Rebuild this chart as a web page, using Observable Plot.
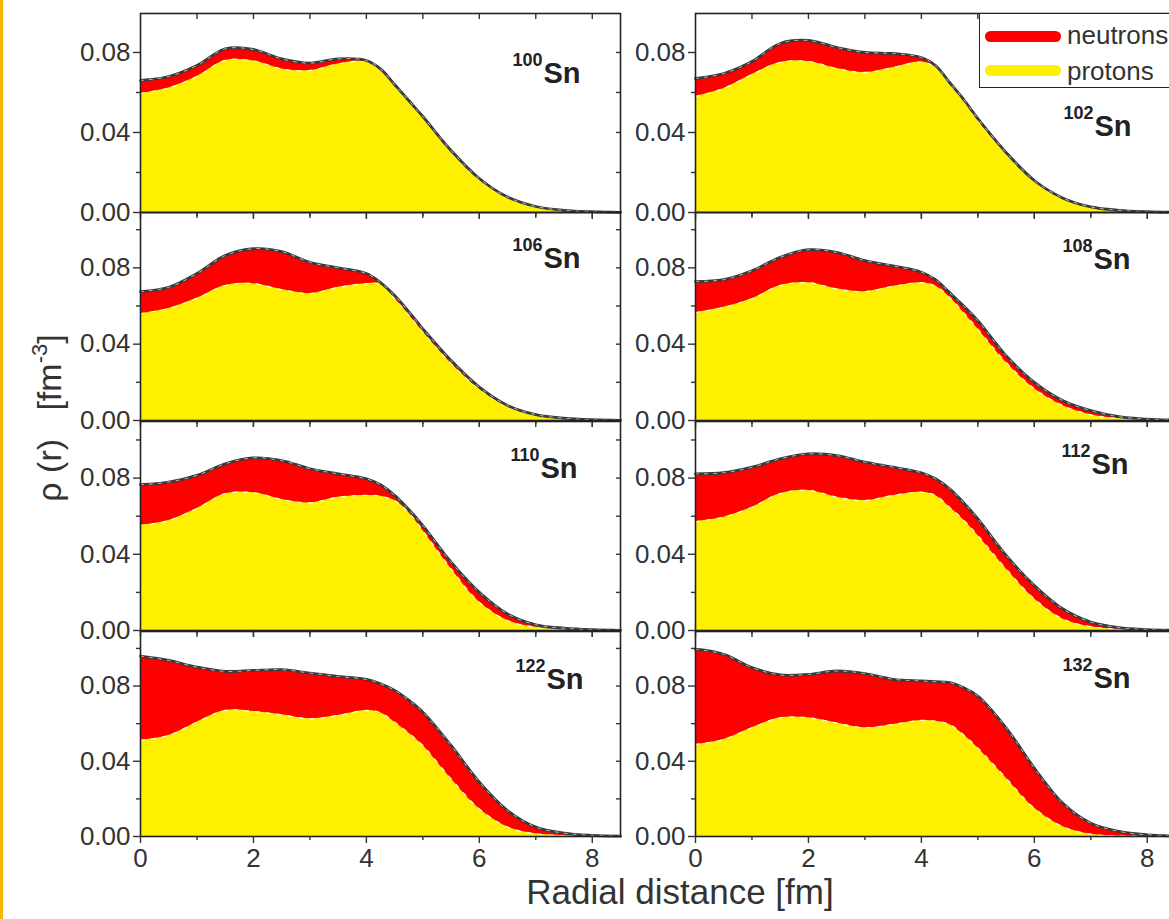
<!DOCTYPE html>
<html><head><meta charset="utf-8">
<script src="https://cdn.jsdelivr.net/npm/d3@7"></script>
<script src="https://cdn.jsdelivr.net/npm/@observablehq/plot@0.6"></script>
<style>
html,body{margin:0;padding:0;background:#fff;overflow:hidden;}
#wrap{position:relative;width:1169px;height:919px;overflow:hidden;font-family:"Liberation Sans",Arial,sans-serif;color:#333;}
.panel{position:absolute;}
.panel svg{overflow:visible;max-width:none !important;}
</style></head><body><div id="wrap"></div>
<script>
// ---------- data ----------
const radius = [0,0.5,1,1.5,2,2.5,3,3.5,4,4.25,4.5,4.75,5,5.5,6,6.5,7,7.5,8,8.5];
const isotopes = ["100","102","106","108","110","112","122","132"];
const n100 = [.066,.068,.0735,.0818,.0815,.0768,.0747,.0768,.076,.0718,.064,.056,.048,.031,.017,.0077,.003,.0011,.0004,.0001];
const p100 = [.0595,.0623,.068,.076,.0758,.0718,.071,.0743,.0755,.0712,.0632,.0553,.0473,.0302,.0162,.0072,.0027,.0009,.0003,.0001];
const n102 = [.067,.0695,.0755,.0845,.086,.0825,.080,.0795,.0775,.0735,.065,.0565,.047,.030,.016,.0073,.0028,.0011,.0004,.0001];
const p102 = [.058,.062,.069,.075,.0755,.072,.070,.0725,.0752,.0728,.0642,.0555,.046,.0292,.0153,.0068,.0025,.0009,.0003,.0001];
const n106 = [.0675,.0698,.077,.0864,.090,.0885,.0829,.080,.077,.0723,.0655,.057,.048,.0314,.0175,.0079,.0031,.0012,.0004,.0001];
const p106 = [.056,.0587,.064,.0707,.0717,.0686,.0665,.0698,.0717,.0715,.064,.0555,.0465,.030,.0165,.0072,.0027,.001,.0003,.0001];
const n108 = [.0728,.0738,.0785,.0855,.0895,.0881,.0838,.081,.0777,.0738,.067,.060,.0523,.034,.020,.0105,.0052,.002,.0007,.0002];
const p108 = [.0565,.0593,.0638,.0707,.0722,.069,.0675,.0703,.0722,.0705,.0646,.0565,.048,.0305,.0167,.0079,.003,.001,.0003,.0001];
const n110 = [.0765,.0779,.0814,.0875,.0906,.0892,.0849,.0822,.0796,.0765,.0709,.0635,.0551,.0359,.0201,.0087,.003,.0012,.0004,.0001];
const p110 = [.0551,.0577,.064,.0718,.0723,.0688,.067,.070,.0709,.0705,.0682,.062,.0525,.0324,.0149,.0052,.0017,.0005,.0001,0];
const n112 = [.0822,.0828,.0857,.0901,.0927,.0918,.0884,.0857,.0828,.0796,.0744,.067,.0586,.0394,.0236,.0114,.0044,.0015,.0005,.0001];
const p112 = [.0572,.0595,.0647,.0718,.0735,.070,.0682,.0709,.0726,.0709,.0647,.058,.0499,.0324,.0166,.0061,.002,.0006,.0002,0];
const n122 = [.0959,.0936,.090,.0878,.0883,.0887,.0869,.0851,.0835,.0812,.0777,.0725,.0661,.0484,.0289,.0138,.005,.0018,.0006,.0002];
const p122 = [.0511,.0537,.0608,.067,.0665,.0647,.0626,.0644,.067,.0658,.0608,.055,.0484,.0307,.0147,.005,.0014,.0004,.0001,0];
const n132 = [.0996,.0969,.0898,.0859,.0862,.088,.0866,.0836,.0827,.0823,.0818,.0791,.0747,.0578,.0364,.0178,.0071,.0027,.0009,.0003];
const p132 = [.0489,.0516,.0578,.0631,.0631,.0604,.0578,.0596,.0617,.0613,.0596,.054,.0471,.0311,.0151,.0053,.0012,.0003,.0001,0];
const neutrons = [n100,n102,n106,n108,n110,n112,n122,n132];
const protons  = [p100,p102,p106,p108,p110,p112,p122,p132];
const yMajor = [0, 0.04, 0.08];
const yMinor = [0.02, 0.06, 0.10];
const xMajor = [0, 2, 4, 6, 8];
const xMinor = [1, 3, 5, 7];
const legendLabels = ["neutrons", "protons"];
const xTitle = "Radial distance [fm]";

// ---------- layout ----------
const colX = [140, 695];
const rowTop = [13, 212, 421, 631];
const rowH = [199, 208, 209, 205];
const rowMax = [0.0995, 0.109, 0.1097, 0.109];
const labelOff = [[-40,69],[-44,122],[-40,55],[-45,56],[-43,56],[-47,52],[-37,57],[-45,56]];
const FW = 480, ML = 80, MR = 12, MT = 10, MB = 50;
const wrap = document.getElementById("wrap");
const font = "Liberation Sans, Arial, sans-serif";
const blank = () => "";

isotopes.forEach((iso, k) => {
  const row = Math.floor(k / 2), col = k % 2;
  const data = radius.map((r, i) => ({r, n: neutrons[k][i], p: protons[k][i]}));
  const H = rowH[row];
  const bottom = row === 3;
  const [ldx, ldy] = labelOff[k];
  const axStyle = {stroke: "#333", strokeWidth: 1.4, label: null};
  const svg = Plot.plot({
    width: FW + ML + MR, height: H + MT + MB,
    marginLeft: ML, marginRight: MR, marginTop: MT, marginBottom: MB,
    x: {domain: [0, 8.5], axis: null},
    y: {domain: [0, rowMax[row]], axis: null},
    style: {fontFamily: font, fontSize: "26px", color: "#333", background: "transparent", overflow: "visible", maxWidth: "none"},
    marks: [
      Plot.areaY(data, {x: "r", y: "n", fill: "#ff0000", curve: "catmull-rom"}),
      Plot.areaY(data, {x: "r", y: "p", fill: "#fff000", curve: "catmull-rom"}),
      Plot.lineY(data, {x: "r", y: "p", stroke: "white", strokeWidth: 1.3, strokeDasharray: "4,7", strokeOpacity: 0.85, curve: "catmull-rom"}),
      Plot.lineY(data, {x: "r", y: "n", stroke: "#3a3a3a", strokeWidth: 2.8, curve: "catmull-rom"}),
      Plot.lineY(data, {x: "r", y: "n", stroke: "#ddd", strokeWidth: 0.8, strokeDasharray: "3,6", curve: "catmull-rom"}),
      Plot.frame({stroke: "#222", strokeWidth: 1.6}),
      Plot.axisY(yMajor, {anchor: "left", tickSize: 7, tickPadding: 3, tickFormat: d3.format(".2f"), fontSize: 26, ...axStyle}),
      Plot.axisY(yMinor.filter(v => v < rowMax[row]), {anchor: "left", tickSize: 4, tickFormat: blank, ...axStyle}),
      Plot.axisY(yMajor.concat(yMinor).filter(v => v < rowMax[row] && v > 0), {anchor: "right", tickSize: 5, dx: -5, tickFormat: blank, ...axStyle}),
      Plot.axisX(xMajor.concat(xMinor).filter(v => v > 0), {anchor: "top", tickSize: 5, dy: 5, tickFormat: blank, ...axStyle}),
      Plot.axisX(xMajor, {anchor: "bottom", tickSize: 7, tickPadding: 5, fontSize: 26, tickFormat: bottom ? d3.format("d") : blank, ...axStyle}),
      Plot.axisX(xMinor, {anchor: "bottom", tickSize: 4, tickFormat: blank, ...axStyle}),
      Plot.text([iso], {text: d => d, frameAnchor: "top-right", dx: ldx - 38, dy: ldy - 17, textAnchor: "end", lineAnchor: "bottom", fontSize: 18, fontWeight: "bold", fill: "#222"}),
      Plot.text(["Sn"], {text: d => d, frameAnchor: "top-right", dx: ldx, dy: ldy, textAnchor: "end", lineAnchor: "bottom", fontSize: 29, fontWeight: "bold", fill: "#222"})
    ]
  });
  svg.style.maxWidth = "none";
  const div = document.createElement("div");
  div.className = "panel";
  div.style.left = (colX[col] - ML) + "px";
  div.style.top = (rowTop[row] - MT) + "px";
  div.style.width = (FW + ML + MR) + "px";
  div.appendChild(svg);
  wrap.appendChild(div);
});

// ---------- decorations (titles, legend) ----------
function addDiv(css, html) {
  const d = document.createElement("div");
  d.style.cssText = "position:absolute;" + css;
  if (html) d.innerHTML = html;
  wrap.appendChild(d);
  return d;
}
addDiv("left:0px;top:0;width:3px;height:919px;background:#f7b500;");
addDiv("left:680px;top:877px;transform:translateX(-50%);font-size:35px;line-height:30px;white-space:nowrap;color:#333;", xTitle);
addDiv("left:44px;top:418px;transform:translate(-50%,-50%) rotate(-90deg);font-size:34px;line-height:40px;white-space:nowrap;color:#333;",
  "\u03c1 (r)&nbsp;&nbsp;&nbsp;[fm<sup style='font-size:22px;vertical-align:14px;'>-3</sup>]");
// legend
addDiv("left:979px;top:13px;width:220px;height:73px;border:1.5px solid #222;background:#fff;z-index:5;");
addDiv("left:985px;top:31px;width:76px;height:11px;border-radius:6px;background:#ff0000;z-index:6;");
addDiv("left:985px;top:65px;width:76px;height:11px;border-radius:6px;background:#fff000;z-index:6;");
addDiv("left:1067px;top:22px;font-size:26px;line-height:26px;color:#333;z-index:6;white-space:nowrap;", legendLabels[0]);
addDiv("left:1067px;top:58px;font-size:26px;line-height:26px;color:#333;z-index:6;white-space:nowrap;", legendLabels[1]);
</script>
</body></html>
